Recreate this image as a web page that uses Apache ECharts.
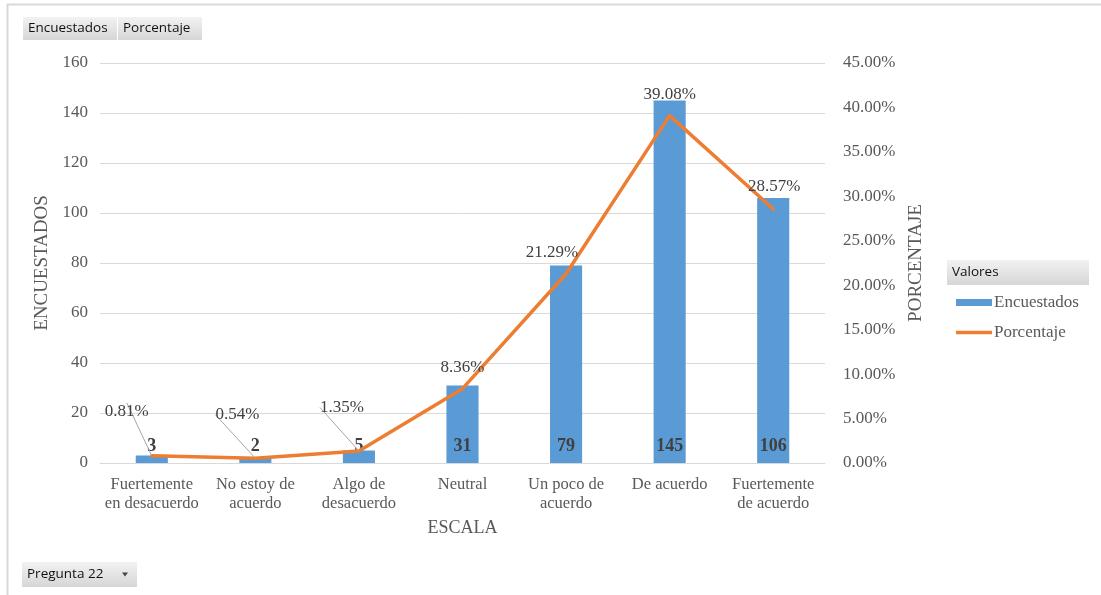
<!DOCTYPE html>
<html>
<head>
<meta charset="utf-8">
<script src="https://cdn.jsdelivr.net/npm/echarts@6/dist/echarts.min.js"></script>
<style>
  html, body { margin: 0; padding: 0; background: #fff; }
  #chart { width: 1101px; height: 595px; }
</style>
</head>
<body>
<div id="chart"></div>
<script>
// Escala de respuestas (Pregunta 22)
const categories = [
  'Fuertemente\nen desacuerdo', 'No estoy de\nacuerdo', 'Algo de\ndesacuerdo',
  'Neutral', 'Un poco de\nacuerdo', 'De acuerdo', 'Fuertemente\nde acuerdo'
];
const encuestados = [3, 2, 5, 31, 79, 145, 106];
const porcentaje = [0.81, 0.54, 1.35, 8.36, 21.29, 39.08, 28.57];
const leftTicks = { min: 0, max: 160, interval: 20 };
const rightTicks = { min: 0, max: 45, interval: 5 };

// Label offsets for the percentage labels that sit away from their points
const pctLabelShift = [
  { dx: -25, dy: -22, line: true },
  { dx: -18, dy: -21, line: true },
  { dx: -17, dy: -21, line: true },
  { dx: 0, dy: 1, line: false },
  { dx: -14, dy: 1, line: false },
  { dx: 0, dy: 1, line: false },
  { dx: 1, dy: 0, line: false }
];

const serif = '"Liberation Serif", "Times New Roman", serif';
const ui = '"Open Sans", "Noto Sans", sans-serif';
const axisText = '#595959';

function pivotButton(x, y, w, h, text, arrow) {
  const children = [
    {
      type: 'rect',
      shape: { x: 0, y: 0, width: w, height: h },
      style: {
        fill: new echarts.graphic.LinearGradient(0, 0, 0, 1, [
          { offset: 0, color: '#f2f2f2' },
          { offset: 1, color: '#d6d6d6' }
        ])
      }
    },
    {
      type: 'text',
      x: 5, y: h / 2,
      style: { text: text, fill: '#111', font: '13.5px ' + ui, verticalAlign: 'middle' }
    }
  ];
  if (arrow) {
    children.push({
      type: 'polygon',
      shape: { points: [[w - 15, h / 2 - 2], [w - 9, h / 2 - 2], [w - 12, h / 2 + 2]] },
      style: { fill: '#444' }
    });
  }
  return { type: 'group', x: x, y: y, children: children };
}

const chart = echarts.init(document.getElementById('chart'));
chart.setOption({
  animation: false,
  backgroundColor: '#fff',
  grid: { left: 100, right: 276, top: 63, bottom: 132 },
  legend: {
    orient: 'vertical',
    left: 956,
    top: 294,
    padding: 0,
    itemWidth: 36,
    itemHeight: 7,
    itemGap: 13,
    textStyle: { fontFamily: serif, fontSize: 17, color: axisText, padding: [0, 0, 0, -3] },
    data: [
      { name: 'Encuestados', icon: 'rect' },
      { name: 'Porcentaje', icon: 'path://M0,0 L36,0 L36,3.5 L0,3.5 Z' }
    ]
  },
  graphic: [
    { type: 'line', shape: { x1: 7, y1: 4.5, x2: 1101, y2: 4.5 }, style: { stroke: '#d9d9d9', lineWidth: 2 } },
    { type: 'line', shape: { x1: 7.5, y1: 4, x2: 7.5, y2: 595 }, style: { stroke: '#d9d9d9', lineWidth: 2 } },
    pivotButton(23, 17, 94, 23, 'Encuestados'),
    pivotButton(118, 17, 84, 23, 'Porcentaje'),
    pivotButton(947, 260, 142, 25, 'Valores'),
    pivotButton(22, 562, 115, 25, 'Pregunta 22', true)
  ],
  xAxis: {
    type: 'category',
    data: categories,
    name: 'ESCALA',
    nameLocation: 'middle',
    nameGap: 56,
    nameTextStyle: { fontFamily: serif, fontSize: 18, color: axisText },
    axisLine: { lineStyle: { color: '#d9d9d9', width: 1 } },
    axisTick: { show: false },
    axisLabel: {
      fontFamily: serif, fontSize: 16.5, color: axisText, margin: 12,
      lineHeight: 19, interval: 0
    }
  },
  yAxis: [
    {
      type: 'value',
      min: leftTicks.min, max: leftTicks.max, interval: leftTicks.interval,
      name: 'ENCUESTADOS',
      nameLocation: 'middle',
      nameGap: 44,
      nameRotate: 90,
      nameTextStyle: { fontFamily: serif, fontSize: 19, color: axisText },
      axisLine: { show: false },
      axisTick: { show: false },
      axisLabel: { fontFamily: serif, fontSize: 17, color: axisText, margin: 12 },
      splitLine: { lineStyle: { color: '#d9d9d9', width: 1 } }
    },
    {
      type: 'value',
      min: rightTicks.min, max: rightTicks.max, interval: rightTicks.interval,
      name: 'PORCENTAJE',
      nameLocation: 'middle',
      nameGap: 79,
      nameRotate: 90,
      nameTextStyle: { fontFamily: serif, fontSize: 19, color: axisText },
      axisLine: { show: false },
      axisTick: { show: false },
      axisLabel: {
        fontFamily: serif, fontSize: 17, color: axisText, margin: 18,
        formatter: v => v.toFixed(2) + '%'
      },
      splitLine: { show: false }
    }
  ],
  series: [
    {
      name: 'Encuestados',
      type: 'bar',
      yAxisIndex: 0,
      barWidth: '31%',
      data: encuestados,
      itemStyle: { color: '#5B9BD5' },
      label: {
        show: true,
        position: 'insideBottom',
        distance: 8,
        fontFamily: serif,
        fontSize: 18,
        fontWeight: 'bold',
        color: '#404040'
      },
      z: 2
    },
    {
      name: 'Porcentaje',
      type: 'line',
      yAxisIndex: 1,
      symbol: 'circle',
      symbolSize: 0,
      showSymbol: true,
      data: porcentaje.map((v, i) => ({
        value: v,
        labelLine: { show: pctLabelShift[i].line }
      })),
      lineStyle: { color: '#ED7D31', width: 3.5, cap: 'round', join: 'round' },
      itemStyle: { color: '#ED7D31' },
      label: {
        show: true,
        position: 'top',
        distance: 14,
        fontFamily: serif,
        fontSize: 17,
        color: '#404040',
        formatter: p => porcentaje[p.dataIndex].toFixed(2) + '%'
      },
      labelLine: { show: false, lineStyle: { color: '#a6a6a6', width: 1 } },
      labelLayout: p => ({ dx: pctLabelShift[p.dataIndex].dx, dy: pctLabelShift[p.dataIndex].dy }),
      z: 3
    }
  ]
});
</script>
</body>
</html>
